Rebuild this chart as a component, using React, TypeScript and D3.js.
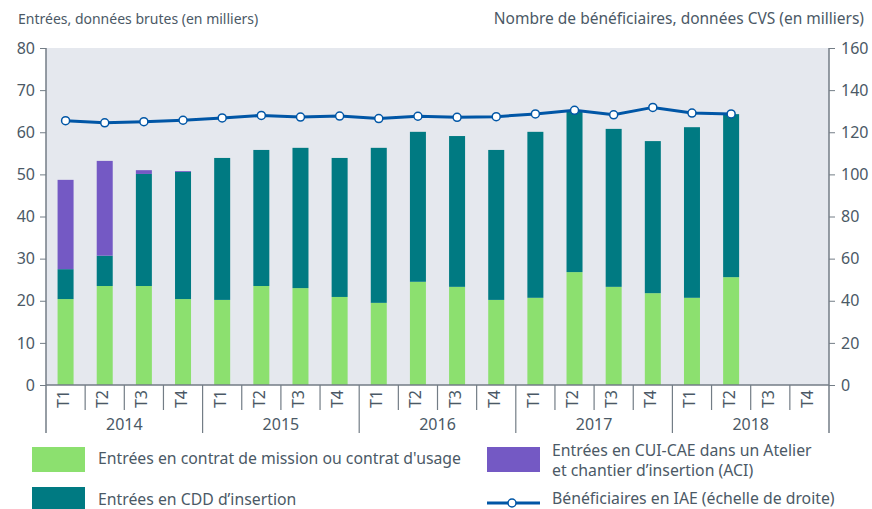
import * as d3 from 'd3';
import React, { useEffect, useRef } from 'react';

// quarters and years
const quarters = ["T1", "T2", "T3", "T4"];
const years = ["2014", "2015", "2016", "2017", "2018"];

// entries (thousands), raw data - stacked bars
const missionValues = [20.4, 23.5, 23.5, 20.4, 20.2, 23.5, 23.0, 20.9, 19.5, 24.5, 23.3, 20.2, 20.7, 26.8, 23.3, 21.8, 20.7, 25.6, null, null];
const cddValues = [7.1, 7.2, 26.6, 30.2, 33.7, 32.3, 33.3, 33.0, 36.8, 35.6, 35.8, 35.6, 39.4, 38.1, 37.5, 36.1, 40.5, 38.7, null, null];
const aciValues = [21.2, 22.5, 0.9, 0.2, 0, 0, 0, 0, 0, 0, 0, 0, 0, 0, 0, 0, 0, 0, null, null];

// beneficiaries (thousands), CVS - right axis
const beneficiaries = [125.5, 124.5, 125.0, 125.7, 126.8, 128.0, 127.2, 127.7, 126.5, 127.6, 127.1, 127.4, 128.7, 130.4, 128.3, 131.8, 129.1, 128.7, null, null];

const leftTicks = [0, 10, 20, 30, 40, 50, 60, 70, 80];
const rightTicks = [0, 20, 40, 60, 80, 100, 120, 140, 160];

const FONT = "'Noto Sans', 'Open Sans', sans-serif";
const TEXT = "#4b5966";
const AXIS = "#737d86";
const colors = { mission: "#8ce06f", cdd: "#007a82", aci: "#7459c4", line: "#0056a6", bg: "#e5e8ee" };

const App: React.FC = () => {
  const ref = useRef<SVGSVGElement>(null);

  useEffect(() => {
    if (!ref.current) return;
    d3.select(ref.current).selectAll("*").remove();

    const W = 872, H = 509;
    const left = 46, right = 829, top = 48, bottom = 385;

    const svg = d3.select(ref.current)
      .attr("width", W)
      .attr("height", H)
      .style("font-family", FONT);

    const keys = years.flatMap(y => quarters.map(q => `${y}-${q}`));

    const x = d3.scaleBand().domain(keys).range([left, right]).padding(0);
    const yL = d3.scaleLinear().domain([0, 80]).range([bottom, top]);
    const yR = d3.scaleLinear().domain([0, 160]).range([bottom, top]);

    // background
    svg.append("rect")
      .attr("x", left).attr("y", top)
      .attr("width", right - left).attr("height", bottom - top)
      .attr("fill", colors.bg);

    // titles
    svg.append("text").attr("x", 18).attr("y", 24)
      .attr("fill", TEXT).style("font-size", "14px")
      .text("Entrées, données brutes (en milliers)");
    svg.append("text").attr("x", 864).attr("y", 24).attr("text-anchor", "end")
      .attr("fill", TEXT).style("font-size", "15.5px")
      .text("Nombre de bénéficiaires, données CVS (en milliers)");

    // stacked bars
    const barW = 16;
    keys.forEach((k, i) => {
      if (missionValues[i] == null) return;
      const cx = (x(k) as number) + x.bandwidth() / 2;
      const parts = [
        { v: missionValues[i] as number, c: colors.mission },
        { v: cddValues[i] as number, c: colors.cdd },
        { v: aciValues[i] as number, c: colors.aci },
      ];
      let acc = 0;
      parts.forEach(p => {
        if (!p.v) return;
        svg.append("rect")
          .attr("x", cx - barW / 2)
          .attr("y", yL(acc + p.v))
          .attr("width", barW)
          .attr("height", yL(acc) - yL(acc + p.v))
          .attr("fill", p.c);
        acc += p.v;
      });
    });

    // left axis
    const axL = svg.append("g").attr("transform", `translate(${left},0)`)
      .call(d3.axisLeft(yL).tickValues(leftTicks).tickSize(6).tickPadding(5).tickSizeOuter(0));
    axL.select(".domain").remove();
    axL.selectAll("line").attr("stroke", AXIS);
    axL.selectAll("text").attr("fill", TEXT).style("font-size", "16px").style("font-family", FONT);

    // right axis
    const axR = svg.append("g").attr("transform", `translate(${right},0)`)
      .call(d3.axisRight(yR).tickValues(rightTicks).tickSize(6).tickPadding(6).tickSizeOuter(0));
    axR.select(".domain").remove();
    axR.selectAll("line").attr("stroke", AXIS);
    axR.selectAll("text").attr("fill", TEXT).style("font-size", "16px").style("font-family", FONT);

    // vertical axis lines, extended to year rows
    [left, right].forEach(px => {
      svg.append("line").attr("x1", px).attr("x2", px).attr("y1", top).attr("y2", 433)
        .attr("stroke", AXIS).attr("stroke-width", 1.5);
    });
    // bottom baseline
    svg.append("line").attr("x1", left).attr("x2", right).attr("y1", bottom).attr("y2", bottom)
      .attr("stroke", AXIS).attr("stroke-width", 1.5);

    // quarter separators and labels
    keys.forEach((k, i) => {
      const x0 = x(k) as number;
      if (i > 0) {
        const yearEdge = i % 4 === 0;
        svg.append("line").attr("x1", x0).attr("x2", x0)
          .attr("y1", bottom).attr("y2", yearEdge ? 433 : 410)
          .attr("stroke", AXIS).attr("stroke-width", 1.2);
      }
      const cx = x0 + x.bandwidth() / 2;
      svg.append("text")
        .attr("transform", `translate(${cx + 3.5},399) rotate(-90)`)
        .attr("text-anchor", "middle")
        .attr("fill", TEXT).style("font-size", "16px")
        .text(quarters[i % 4]);
    });

    // year labels
    years.forEach(yr => {
      const x0 = x(`${yr}-T1`) as number;
      const x1 = (x(`${yr}-T4`) as number) + x.bandwidth();
      svg.append("text")
        .attr("x", (x0 + x1) / 2).attr("y", 430)
        .attr("text-anchor", "middle")
        .attr("fill", TEXT).style("font-size", "16px")
        .text(yr);
    });

    // beneficiaries line
    const pts = keys.map((k, i) => ({ k, v: beneficiaries[i] })).filter(d => d.v != null) as { k: string; v: number }[];
    const line = d3.line<{ k: string; v: number }>()
      .x(d => (x(d.k) as number) + x.bandwidth() / 2)
      .y(d => yR(d.v));
    svg.append("path").datum(pts)
      .attr("d", line)
      .attr("fill", "none")
      .attr("stroke", colors.line)
      .attr("stroke-width", 3);
    svg.selectAll(".dot").data(pts).enter().append("circle")
      .attr("cx", d => (x(d.k) as number) + x.bandwidth() / 2)
      .attr("cy", d => yR(d.v))
      .attr("r", 4)
      .attr("fill", "#fff")
      .attr("stroke", colors.line)
      .attr("stroke-width", 1.5);

    // legend
    const lg = svg.append("g").style("font-size", "15.8px");
    lg.append("rect").attr("x", 32).attr("y", 447).attr("width", 53).attr("height", 25).attr("fill", colors.mission);
    lg.append("text").attr("x", 98).attr("y", 464).attr("fill", TEXT)
      .text("Entrées en contrat de mission ou contrat d'usage");
    lg.append("rect").attr("x", 32).attr("y", 487).attr("width", 53).attr("height", 25).attr("fill", colors.cdd);
    lg.append("text").attr("x", 98).attr("y", 505).attr("fill", TEXT)
      .text("Entrées en CDD d’insertion");
    lg.append("rect").attr("x", 487).attr("y", 447).attr("width", 53).attr("height", 25).attr("fill", colors.aci);
    lg.append("text").attr("x", 552).attr("y", 455.5).attr("fill", TEXT)
      .text("Entrées en CUI-CAE dans un Atelier");
    lg.append("text").attr("x", 552).attr("y", 476).attr("fill", TEXT)
      .text("et chantier d’insertion (ACI)");
    lg.append("line").attr("x1", 487).attr("x2", 540).attr("y1", 503).attr("y2", 503)
      .attr("stroke", colors.line).attr("stroke-width", 3);
    lg.append("circle").attr("cx", 512).attr("cy", 503).attr("r", 4)
      .attr("fill", "#fff").attr("stroke", colors.line).attr("stroke-width", 1.5);
    lg.append("text").attr("x", 552).attr("y", 504).attr("fill", TEXT)
      .text("Bénéficiaires en IAE (échelle de droite)");
  }, []);

  return <svg ref={ref} style={{ position: "absolute", left: 0, top: 0 }}></svg>;
};

export default App;
